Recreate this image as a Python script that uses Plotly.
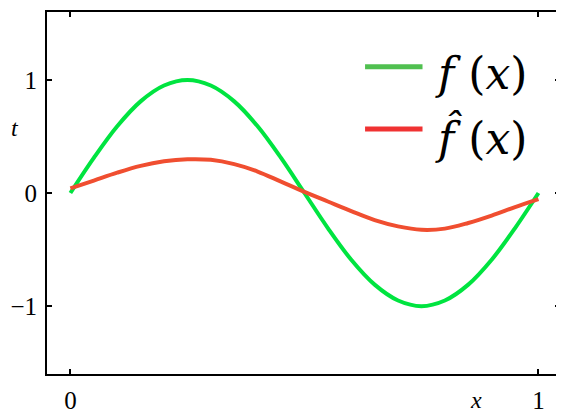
import plotly.graph_objects as go

# sample positions along x
x_vals = [0.0, 0.05, 0.1, 0.15, 0.2, 0.25, 0.3, 0.35, 0.4, 0.45, 0.5,
          0.55, 0.6, 0.65, 0.7, 0.75, 0.8, 0.85, 0.9, 0.95, 1.0]

# true function f(x)
f_true = [0.0, 0.31, 0.59, 0.81, 0.95, 1.0, 0.95, 0.81, 0.59, 0.31, 0.0,
          -0.31, -0.59, -0.81, -0.95, -1.0, -0.95, -0.81, -0.59, -0.31, 0.0]

# fitted function f_hat(x)
f_hat = [0.04, 0.11, 0.18, 0.24, 0.28, 0.298, 0.293, 0.255, 0.19, 0.10, 0.01,
         -0.075, -0.16, -0.24, -0.295, -0.325, -0.315, -0.265, -0.20, -0.125, -0.055]

x_ticks = [0, 1]
x_tick_text = ["0", "1"]
y_ticks = [-1, 0, 1]
y_tick_text = ["\u22121", "0", "1"]

serif = "Liberation Serif"

fig = go.Figure()

fig.add_trace(go.Scatter(x=x_vals, y=f_true, mode="lines",
                         line=dict(color="rgb(0,228,64)", width=4, shape="spline"),
                         showlegend=False))
fig.add_trace(go.Scatter(x=x_vals, y=f_hat, mode="lines",
                         line=dict(color="rgb(240,78,48)", width=4, shape="spline"),
                         showlegend=False))

axis_common = dict(
    showgrid=False, zeroline=False,
    showline=True, linecolor="black", linewidth=2, mirror="ticks",
    ticks="inside", ticklen=5, tickwidth=1.5, tickcolor="black",
    tickfont=dict(family=serif, size=25, color="black"),
    ticklabelstandoff=3,
)

fig.update_xaxes(range=[-0.05, 1.046], tickvals=x_ticks, ticktext=x_tick_text,
                 **axis_common)
fig.update_yaxes(range=[-1.6, 1.6], tickvals=y_ticks, ticktext=y_tick_text,
                 **axis_common)

# legend drawn by hand to match the sample line length and big math text
fig.add_shape(type="line", xref="paper", yref="paper",
              x0=0.62, x1=0.732, y0=0.849, y1=0.849,
              line=dict(color="rgb(80,192,80)", width=5))
fig.add_shape(type="line", xref="paper", yref="paper",
              x0=0.62, x1=0.732, y0=0.677, y1=0.677,
              line=dict(color="rgb(240,50,50)", width=5))
fig.add_annotation(xref="paper", yref="paper", x=0.752, y=0.83, xanchor="left",
                   yanchor="middle", showarrow=False,
                   text="<i>f</i> (<i>x</i>)",
                   font=dict(family="DejaVu Serif", size=44, color="black"))
fig.add_annotation(xref="paper", yref="paper", x=0.752, y=0.655, xanchor="left",
                   yanchor="middle", showarrow=False,
                   text="<i>f\u0302</i> (<i>x</i>)",
                   font=dict(family="DejaVu Serif", size=44, color="black"))

# axis titles
fig.add_annotation(xref="paper", yref="paper", x=-0.05, y=0.679, xanchor="right",
                   yanchor="middle", showarrow=False, text="<i>t</i>",
                   font=dict(family=serif, size=24, color="black"))
fig.add_annotation(xref="paper", yref="paper", x=0.836, y=-0.072, xanchor="center",
                   yanchor="middle", showarrow=False, text="<i>x</i>",
                   font=dict(family=serif, size=24, color="black"))

# the page body keeps an 8px margin, so the figure is sized to end at the window edge
fig.update_layout(
    width=556, height=408,
    margin=dict(l=36, r=2, t=3, b=40),
    plot_bgcolor="white", paper_bgcolor="white",
)

fig.write_html("out.html")
